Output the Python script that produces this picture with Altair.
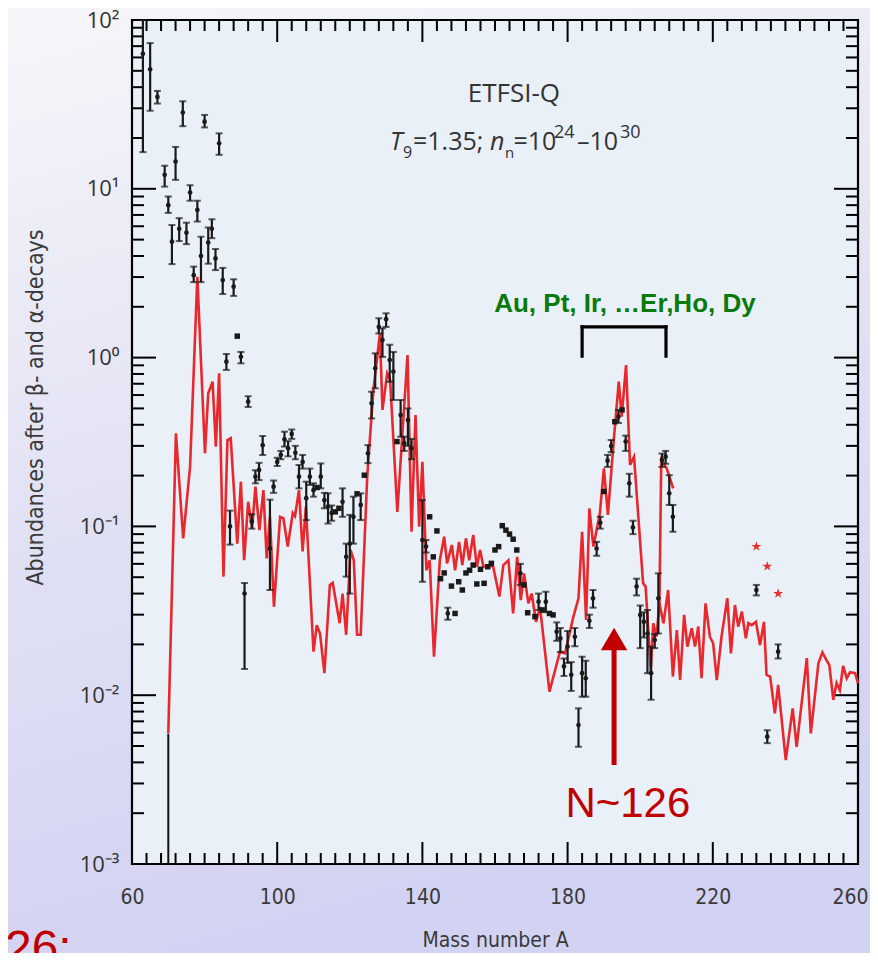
import altair as alt
import pandas as pd

W, H = 726, 844
FONT = "Liberation Sans Narrow, DejaVu Sans Condensed, Open Sans, sans-serif"
TXT = "#333333"
RED_LINE = "#e8282d"
DARK_RED = "#c00000"

# ---------------- data ----------------
mass = [63, 65, 67, 69, 70, 71, 72, 73, 74, 75, 76, 77, 78, 79, 80, 81, 82, 83, 84, 85,
        86, 87, 88, 89, 90, 91, 92, 93, 94, 95, 96, 98, 99, 100, 101, 102, 103, 104, 105, 106,
        107, 108, 109, 110, 111, 112, 113, 114, 115, 116, 117, 118, 119, 120, 121, 122, 123, 124, 125, 126,
        127, 128, 129, 130, 131, 132, 133, 134, 135, 136, 137, 140, 141, 142, 143, 144, 145, 146, 147, 148,
        149, 150, 151, 152, 153, 154, 155, 156, 157, 158, 159, 160, 161, 162, 163, 164, 165, 166, 167, 168,
        169, 171, 172, 173, 174, 175, 176, 177, 178, 179, 180, 181, 182, 183, 184, 185, 186, 187, 188, 189,
        190, 191, 192, 193, 194, 195, 196, 197, 198, 199, 200, 201, 202, 203, 204, 205, 206, 207, 208, 209,
        232, 235, 238]
abund = [63, 51, 35, 12.1, 8.0, 4.86, 14.5, 5.8, 28.3, 5.5, 9.5, 3.08, 7.5, 4.0, 25, 4.8, 5.8, 3.87, 18.6, 2.88,
         0.946, 0.1, 2.63, 1.34, 1.01, 0.040, 0.548, 0.107, 0.197, 0.216, 0.303, 0.074, 0.172, 0.241, 0.265, 0.328, 0.29, 0.353, 0.273, 0.197,
         0.241, 0.147, 0.197, 0.164, 0.17, 0.197, 0.143, 0.131, 0.12, 0.122, 0.128, 0.14, 0.066, 0.079, 0.114, 0.156, 0.134, 0.201, 0.271, 0.536,
         0.865, 1.52, 1.27, 1.69, 0.968, 0.826, 0.318, 0.457, 0.31, 0.427, 0.29, 0.083, 0.076, 0.114, 0.066, 0.094, 0.049, 0.053, 0.0305, 0.0443,
         0.0305, 0.047, 0.042, 0.053, 0.055, 0.059, 0.0456, 0.0557, 0.046, 0.0577, 0.0604, 0.0725, 0.0759, 0.101, 0.095, 0.09, 0.084, 0.0725, 0.0527, 0.045,
         0.0308, 0.0292, 0.0358, 0.032, 0.0358, 0.0305, 0.0299, 0.0238, 0.0217, 0.0148, 0.0194, 0.0132, 0.0222, 0.00665, 0.0135, 0.0126, 0.0276, 0.0375, 0.074, 0.105,
         0.161, 0.245, 0.299, 0.417, 0.447, 0.49, 0.318, 0.18, 0.0986, 0.044, 0.0299, 0.0272, 0.0232, 0.0135, 0.0212, 0.0375, 0.247, 0.259, 0.157, 0.114,
         0.042, 0.00568, 0.0181]
err_lo = [16.5, 29, 32, 10.3, 7.2, 3.58, 11.3, 4.9, 23.5, 4.7, 8.5, 2.8, 6.4, 2.8, 23.1, 3.6, 5.1, 3.3, 15.9, 2.38,
          0.845, 0.078, 2.32, None, 0.925, 0.0143, 0.51, 0.097, 0.18, 0.188, 0.265, 0.042, 0.158, 0.228, 0.25, 0.297, 0.26, 0.33, 0.25, 0.168,
          0.22, 0.109, 0.176, 0.15, None, 0.168, 0.128, 0.104, 0.108, None, None, 0.114, 0.0504, 0.040, 0.079, None, 0.109, None, 0.237, 0.436,
          0.658, 1.39, 1.01, 1.52, 0.72, 0.561, None, 0.34, 0.28, 0.30, 0.25, 0.047, 0.07, None, None, None, None, None, 0.028, None,
          None, None, None, None, None, None, None, None, None, None, None, None, None, None, None, None, None, None, 0.045, None,
          None, None, 0.032, None, 0.031, None, None, 0.021, 0.018, 0.013, 0.0155, 0.0106, 0.0195, 0.00495, 0.0098, 0.0098, 0.025, 0.033, 0.067, 0.097,
          None, 0.225, 0.275, None, 0.41, None, 0.28, 0.15, 0.09, 0.039, 0.019, 0.022, 0.0135, 0.0094, 0.019, 0.0232, 0.225, 0.235, 0.134, 0.093,
          0.039, 0.0052, 0.0165]
err_hi = [100, 73, 38, 13.7, 9.0, 6.1, 17.7, 6.7, 33, 6.3, 10.5, 3.46, 8.5, 5.2, 27.4, 5.9, 6.6, 4.4, 21.3, 3.4,
          1.05, 0.124, 2.91, None, 1.08, 0.0462, 0.59, 0.118, 0.215, 0.238, 0.343, 0.144, 0.187, 0.255, 0.28, 0.364, 0.32, 0.375, 0.30, 0.231,
          0.265, 0.184, 0.22, 0.18, None, 0.236, 0.158, 0.157, 0.133, None, None, 0.168, 0.079, 0.117, 0.15, None, 0.157, None, 0.303, 0.628,
          1.06, 1.71, 1.49, 1.83, 1.19, 1.08, None, 0.561, 0.34, 0.50, 0.33, 0.143, 0.083, None, None, None, None, None, 0.033, None,
          None, None, None, None, None, None, None, None, None, None, None, None, None, None, None, None, None, None, 0.060, None,
          None, None, 0.040, None, 0.041, None, None, 0.027, 0.025, 0.0165, 0.024, 0.0157, 0.025, 0.00836, 0.0169, 0.016, 0.030, 0.042, 0.081, 0.114,
          None, 0.265, 0.325, None, 0.49, None, 0.345, 0.205, 0.108, 0.049, 0.034, 0.031, 0.032, 0.0194, 0.023, 0.0527, 0.27, 0.28, 0.201, 0.134,
          0.045, 0.0062, 0.020]

# theory curve (red), main branch
line1_A = [70.0, 72.1, 74.1, 76.0, 78.0, 80.1, 81.0, 82.2, 83.1, 84.0, 85.2, 86.3, 87.2, 89.0, 90.0, 90.9, 92.0, 93.1,
           94.0, 95.1, 96.2, 97.1, 98.0, 99.1, 100.8, 101.7, 102.9, 104.3, 104.9, 106.0, 107.0, 107.9, 110.0, 110.9,
           111.8, 113.0, 114.5, 115.3, 117.2, 118.0, 119.0, 120.2, 121.1, 122.0, 123.0, 124.8, 126.5, 128.3, 129.0,
           130.3, 131.1, 133.1, 135.9, 137.0, 138.1, 139.1, 140.0, 141.1, 142.0, 143.2, 144.8, 146.0, 146.8, 148.1,
           149.0, 150.1, 151.0, 152.0, 152.9, 154.0, 155.0, 155.9, 156.8, 158.1, 159.5, 161.2, 162.3, 163.7, 165.0,
           166.1, 167.1, 168.0, 169.2, 170.1, 171.3, 172.4, 175.0, 177.9, 179.3, 181.6, 183.0, 184.0, 185.1, 186.0,
           187.1, 188.9, 190.0, 191.1, 192.8, 194.1, 194.9, 196.1, 197.2, 198.3, 200.8, 201.5, 202.9, 203.6, 204.5,
           205.3, 205.8, 207.3, 209.1]
line1_v = [0.00594, 0.356, 0.085, 0.226, 3.01, 0.271, 0.615, 0.72, 0.297, 0.807, 0.0504, 0.325, 0.333, 0.079, 0.184,
           0.063, 0.14, 0.0976, 0.172, 0.095, 0.164, 0.0647, 0.114, 0.0334, 0.114, 0.112, 0.076, 0.12, 0.115, 0.164,
           0.071, 0.131, 0.0181, 0.026, 0.0232, 0.0135, 0.045, 0.0463, 0.0267, 0.040, 0.0228, 0.0725, 0.063, 0.0228,
           0.0228, 0.197, 0.643, 1.39, 0.49, 0.807, 0.74, 0.122, 1.035, 0.093, 0.457, 0.0996, 0.241, 0.055, 0.063,
           0.0169, 0.063, 0.0869, 0.0604, 0.0776, 0.055, 0.081, 0.059, 0.085, 0.063, 0.089, 0.0577, 0.0725, 0.0577,
           0.059, 0.0577, 0.0384, 0.059, 0.063, 0.0305, 0.066, 0.0366, 0.0527, 0.035, 0.040, 0.0272, 0.0334, 0.0105,
           0.0181, 0.0177, 0.0292, 0.0375, 0.093, 0.0279, 0.128, 0.076, 0.12, 0.221, 0.117, 0.34, 0.72, 0.447, 0.904,
           0.231, 0.259, 0.046, 0.044, 0.0138, 0.0267, 0.0222, 0.035, 0.247, 0.221, 0.168]
# theory curve (red), continuation beyond A~205
line2_A = [205.3, 206.4, 207.7, 209.0, 210.1, 211.0, 212.1, 213.0, 214.2, 215.1, 216.0, 216.9, 218.0, 219.2, 220.1,
           221.1, 222.4, 224.0, 225.0, 226.1, 227.0, 228.0, 229.1, 229.8, 230.7, 231.9, 233.0, 234.1, 234.8, 235.8,
           237.1, 238.0, 240.1, 242.0, 243.1, 245.9, 247.0, 249.1, 250.2, 251.2, 252.1, 253.2, 254.1, 255.0, 255.9,
           256.9, 257.8, 259.2, 260.0]
line2_v = [0.035, 0.0267, 0.042, 0.0129, 0.0243, 0.0123, 0.0299, 0.0194, 0.0249, 0.0194, 0.0255, 0.0126, 0.035,
           0.0222, 0.0203, 0.0123, 0.0222, 0.0375, 0.0177, 0.0342, 0.0255, 0.0313, 0.0217, 0.0267, 0.026, 0.0272,
           0.0198, 0.0272, 0.0132, 0.0129, 0.00782, 0.0115, 0.00413, 0.00836, 0.00495, 0.0166, 0.00594, 0.0155,
           0.0179, 0.0163, 0.0151, 0.0094, 0.0118, 0.0107, 0.0149, 0.0126, 0.0137, 0.0135, 0.0118]

star_A = [232, 235, 238]
star_v = [0.076, 0.058, 0.040]

drop_A = [70]
drop_lo = [0.001]
drop_hi = [0.0059]

x_labels = [60, 100, 140, 180, 220, 260]
y_labels = [0.001, 0.01, 0.1, 1, 10, 100]
x_major = [100, 140, 180, 220]
x_minor = [a for a in range(64, 260, 4) if a not in x_major]
y_major = [0.01, 0.1, 1, 10]
y_minor = [k * 10.0 ** e for e in range(-3, 2) for k in range(2, 10)]

# annotation bracket (A range, abundance levels)
br_x = [184.0, 184.0, 207.1]
br_x2 = [207.1, 184.0, 207.1]
br_y = [1.52, 1.02, 1.02]
br_y2 = [1.52, 1.52, 1.52]

# ---------------- frames ----------------
pts = pd.DataFrame({"A": mass, "v": abund, "lo": err_lo, "hi": err_hi})
pts["has_err"] = pts["lo"].notna()
l1 = pd.DataFrame({"A": line1_A, "v": line1_v})
l2 = pd.DataFrame({"A": line2_A, "v": line2_v})
stars = pd.DataFrame({"A": star_A, "v": star_v})
drop = pd.DataFrame({"A": drop_A, "lo": drop_lo, "hi": drop_hi})
one = pd.DataFrame({"k": [0]})

xs = alt.Scale(domain=[60, 260], nice=False, zero=False)
ys = alt.Scale(type="log", domain=[0.001, 100], nice=False)

ylabel_expr = ("datum.value >= 99 ? '10²' : datum.value >= 9 ? '10¹' : datum.value >= 0.9 ? '10⁰' : "
               "datum.value >= 0.09 ? '10⁻¹' : datum.value >= 0.009 ? '10⁻²' : '10⁻³'")

xaxis = alt.Axis(values=x_labels, ticks=False, domain=False, grid=False, format="d", zindex=1,
                 labelFlush=False, labelOverlap=False,
                 labelOffset={"condition": {"test": "datum.value >= 259", "value": -8}, "value": 0},
                 labelFont=FONT, labelFontSize=21, labelColor="#3a3a3a", labelPadding=22,
                 title="Mass number A", titleFont=FONT, titleFontSize=21, titleFontWeight="normal",
                 titleColor="#3a3a3a", titleX=363, titleY=82, titleBaseline="alphabetic", titleAnchor="middle")
yaxis = alt.Axis(values=y_labels, ticks=False, domain=False, grid=False, labelExpr=ylabel_expr, zindex=1,
                 labelFlush=False, labelOverlap=False,
                 labelFont="Open Sans", labelFontSize=22, labelColor=TXT, labelPadding=13,
                 title="Abundances after β- and α-decays", titleFont=FONT, titleFontSize=23,
                 titleFontWeight="normal", titleColor="#3a3a3a", titleX=-97, titleY=387, titleAngle=-90,
                 titleBaseline="middle", titleAlign="center")


def X(f="A"):
    return alt.X(f"{f}:Q", scale=xs, axis=xaxis)


def Y(f="v"):
    return alt.Y(f"{f}:Q", scale=ys, axis=yaxis)


grad = alt.LinearGradient(gradient="linear", x1=0, y1=0, x2=0.25, y2=1,
                          stops=[alt.GradientStop(color="#f6f6fa", offset=0),
                                 alt.GradientStop(color="#e2e2f4", offset=0.5),
                                 alt.GradientStop(color="#d2d2f2", offset=1)])
bg = alt.Chart(one).mark_rect(fill=grad).encode(
    x=alt.value(-124), x2=alt.value(W + 12), y=alt.value(-12), y2=alt.value(H + 89))
panel = alt.Chart(one).mark_rect(fill="#e9f0f8", stroke="black", strokeWidth=2.2).encode(
    x=alt.value(0), x2=alt.value(W), y=alt.value(0), y2=alt.value(H))

TW = 2.0
def xticks(vals, L):
    d = pd.DataFrame({"A": vals})
    b = alt.Chart(d).mark_rule(color="black", strokeWidth=TW).encode(x=X(), y=alt.value(H), y2=alt.value(H - L))
    t = alt.Chart(d).mark_rule(color="black", strokeWidth=TW).encode(x=X(), y=alt.value(0), y2=alt.value(L))
    return [b, t]


def yticks(vals, L):
    d = pd.DataFrame({"v": vals})
    lft = alt.Chart(d).mark_rule(color="black", strokeWidth=TW).encode(y=Y(), x=alt.value(0), x2=alt.value(L))
    rgt = alt.Chart(d).mark_rule(color="black", strokeWidth=TW).encode(y=Y(), x=alt.value(W), x2=alt.value(W - L))
    return [lft, rgt]


ticks = xticks(x_major, 22) + xticks(x_minor, 11) + yticks(y_major, 24) + yticks(y_minor, 12)

red1 = alt.Chart(l1).mark_line(color=RED_LINE, strokeWidth=2.6).encode(x=X(), y=Y(), order="A:Q")
red2 = alt.Chart(l2).mark_line(color=RED_LINE, strokeWidth=2.6).encode(x=X(), y=Y(), order="A:Q")
drop_rule = alt.Chart(drop).mark_rule(color="#111", strokeWidth=2).encode(x=X(), y=Y("lo"), y2="hi:Q")

errbase = alt.Chart(pts).transform_filter("datum.has_err")
ebar = errbase.mark_rule(color="#1a1a1a", strokeWidth=2.2).encode(x=X(), y=Y("lo"), y2="hi:Q")
ecap_lo = errbase.mark_tick(color="#1a1a1a", orient="horizontal", size=7, thickness=2).encode(x=X(), y=Y("lo"))
ecap_hi = errbase.mark_tick(color="#1a1a1a", orient="horizontal", size=7, thickness=2).encode(x=X(), y=Y("hi"))
dots = errbase.mark_point(shape="circle", filled=True, color="#1a1a1a", size=22, opacity=1).encode(x=X(), y=Y())
squares = alt.Chart(pts).transform_filter("!datum.has_err").mark_point(
    shape="square", filled=True, color="#1a1a1a", size=30, opacity=1).encode(x=X(), y=Y())
STAR = ("M0,-1L0.2245,-0.309L0.951,-0.309L0.363,0.118L0.588,0.809L0,0.382L-0.588,0.809"
        "L-0.363,0.118L-0.951,-0.309L-0.2245,-0.309Z")
star_pts = alt.Chart(stars).mark_point(shape=STAR, filled=True, color="#e8302c", size=110, opacity=1).encode(
    x=X(), y=Y())

# bracket
brk = pd.DataFrame({"A": br_x, "A2": br_x2, "v": br_y, "v2": br_y2})
bracket = alt.Chart(brk).mark_rule(color="black", strokeWidth=3.2, strokeCap="square").encode(
    x=X(), x2="A2:Q", y=Y(), y2="v2:Q")

# arrow N~126
arr = pd.DataFrame({"A": [192.8], "lo": [0.00386], "hi": [0.0215]})
arrow_shaft = alt.Chart(arr).mark_rule(color=DARK_RED, strokeWidth=5).encode(x=X(), y=Y("lo"), y2="hi:Q")
arrow_head = alt.Chart(arr).mark_point(shape="M-1,0.85L1,0.85L0,-0.85Z", filled=True, color=DARK_RED,
                                       size=700, opacity=1).encode(x=X(), y=Y("hi"))


def txt(A, v, s, size, color=TXT, align="left", style="normal", weight="normal", font=FONT, baseline="alphabetic"):
    d = pd.DataFrame({"A": [A], "v": [v], "t": [s]})
    return alt.Chart(d).mark_text(align=align, baseline=baseline, fontSize=size, color=color, fontStyle=style,
                                  fontWeight=weight, font=font).encode(x=X(), y=Y(), text="t:N")


OS = "Open Sans"
ARIAL = "Liberation Sans, Arial, sans-serif"
annots = [
    txt(165.2, 32.66, "ETFSI-Q", 26, align="center", font=OS),
    txt(131.07, 16.98, "T", 25, style="italic", font=OS),
    txt(134.66, 15.22, "9", 16, font=OS),
    txt(137.41, 16.98, "=1.35;", 25, font=OS),
    txt(158.62, 16.98, "n", 25, style="italic", font=OS),
    txt(162.75, 15.22, "n", 15, font=OS),
    txt(165.1, 16.98, "=10", 25, font=OS),
    txt(176.25, 20.0, "24", 18, font=OS),
    txt(182.59, 16.98, "–10", 25, font=OS),
    txt(194.44, 20.0, "30", 18, font=OS),
    txt(195.8, 1.862, "Au, Pt, Ir, …Er,Ho, Dy", 26, color="#0a7a0a", align="center", weight="bold", font=ARIAL),
    txt(196.6, 0.0019, "N~126", 42, color=DARK_RED, align="center", font=ARIAL),
    txt(25.0, 0.000256, "26:", 48, color=DARK_RED, align="left", font=ARIAL),
]

layers = [bg, panel] + ticks + [red1, red2, drop_rule, ebar, ecap_lo, ecap_hi, dots, squares, star_pts,
                                  bracket, arrow_shaft, arrow_head] + annots

chart = alt.layer(*layers).properties(
    width=W, height=H,
    autosize=alt.AutoSizeParams(type="none"),
    padding={"left": 124, "top": 12, "right": 12, "bottom": 89},
).configure_view(stroke=None, fill=None).configure(background="#eeeef7")

chart.save("out.html", embed_options={"renderer": "svg", "actions": False})
